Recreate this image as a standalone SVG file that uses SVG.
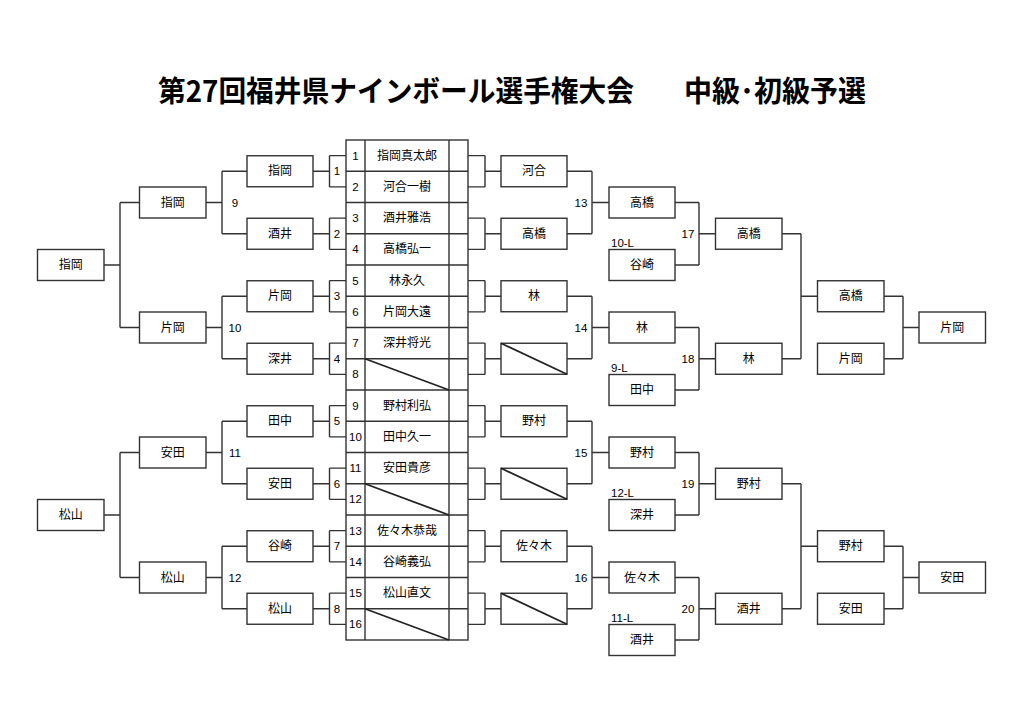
<svg xmlns="http://www.w3.org/2000/svg" width="1024" height="724" viewBox="0 0 1024 724">
<style>
.bg{fill:#ffffff}
.box{fill:#ffffff;stroke:#333333;stroke-width:1.4}
.ln{fill:none;stroke:#333333;stroke-width:1.4}
.dg{fill:none;stroke:#222222;stroke-width:1.8}
.t{font-family:"Liberation Sans","Noto Sans CJK JP",sans-serif;font-size:12px;fill:#000000;text-anchor:middle;dominant-baseline:central}
.n{font-family:"Liberation Sans","Noto Sans CJK JP",sans-serif;font-size:11.5px;fill:#000000;text-anchor:middle;dominant-baseline:central}
.l{font-family:"Liberation Sans","Noto Sans CJK JP",sans-serif;font-size:11.5px;fill:#000000;text-anchor:start}
.title{font-family:"Noto Sans CJK JP",sans-serif;font-size:29px;font-weight:bold;fill:#000000}
</style>
<rect class="bg" x="0" y="0" width="1024" height="724"/>
<g id="title">
<text class="title" x="158" y="102" textLength="476" lengthAdjust="spacingAndGlyphs">第27回福井県ナインボール選手権大会</text>
<text class="title" x="684" y="102" textLength="182" lengthAdjust="spacingAndGlyphs">中級･初級予選</text>
</g>
<g id="connectors">
<path class="ln" d="M104,265H120M120,202.5V327.5M120,202.5H139M120,327.5H139"/>
<path class="ln" d="M104,515H120M120,452.5V577.5M120,452.5H139M120,577.5H139"/>
<path class="ln" d="M206,202.5H222M222,171.25V233.75M222,171.25H247M222,233.75H247"/>
<path class="ln" d="M206,327.5H222M222,296.25V358.75M222,296.25H247M222,358.75H247"/>
<path class="ln" d="M206,452.5H222M222,421.25V483.75M222,421.25H247M222,483.75H247"/>
<path class="ln" d="M206,577.5H222M222,546.25V608.75M222,546.25H247M222,608.75H247"/>
<path class="ln" d="M313,171.25H329.5M329.5,155.6V186.9M329.5,155.6H346M329.5,186.9H346"/>
<path class="ln" d="M313,233.75H329.5M329.5,218.1V249.4M329.5,218.1H346M329.5,249.4H346"/>
<path class="ln" d="M313,296.25H329.5M329.5,280.6V311.9M329.5,280.6H346M329.5,311.9H346"/>
<path class="ln" d="M313,358.75H329.5M329.5,343.1V374.4M329.5,343.1H346M329.5,374.4H346"/>
<path class="ln" d="M313,421.25H329.5M329.5,405.6V436.9M329.5,405.6H346M329.5,436.9H346"/>
<path class="ln" d="M313,483.75H329.5M329.5,468.1V499.4M329.5,468.1H346M329.5,499.4H346"/>
<path class="ln" d="M313,546.25H329.5M329.5,530.6V561.9M329.5,530.6H346M329.5,561.9H346"/>
<path class="ln" d="M313,608.75H329.5M329.5,593.1V624.4M329.5,593.1H346M329.5,624.4H346"/>
<path class="ln" d="M468,155.6H485M468,186.9H485M485,155.6V186.9M485,171.25H501"/>
<path class="ln" d="M468,218.1H485M468,249.4H485M485,218.1V249.4M485,233.75H501"/>
<path class="ln" d="M468,280.6H485M468,311.9H485M485,280.6V311.9M485,296.25H501"/>
<path class="ln" d="M468,343.1H485M468,374.4H485M485,343.1V374.4M485,358.75H501"/>
<path class="ln" d="M468,405.6H485M468,436.9H485M485,405.6V436.9M485,421.25H501"/>
<path class="ln" d="M468,468.1H485M468,499.4H485M485,468.1V499.4M485,483.75H501"/>
<path class="ln" d="M468,530.6H485M468,561.9H485M485,530.6V561.9M485,546.25H501"/>
<path class="ln" d="M468,593.1H485M468,624.4H485M485,593.1V624.4M485,608.75H501"/>
<path class="ln" d="M567,171.25H592M567,233.75H592M592,171.25V233.75M592,202.5H609"/>
<path class="ln" d="M567,296.25H592M567,358.75H592M592,296.25V358.75M592,327.5H609"/>
<path class="ln" d="M567,421.25H592M567,483.75H592M592,421.25V483.75M592,452.5H609"/>
<path class="ln" d="M567,546.25H592M567,608.75H592M592,546.25V608.75M592,577.5H609"/>
<path class="ln" d="M675,202.5H699M675,265H699M699,202.5V265M699,233.75H715"/>
<path class="ln" d="M675,327.5H699M675,390H699M699,327.5V390M699,358.75H715"/>
<path class="ln" d="M675,452.5H699M675,515H699M699,452.5V515M699,483.75H715"/>
<path class="ln" d="M675,577.5H699M675,640H699M699,577.5V640M699,608.75H715"/>
<path class="ln" d="M782,233.75H801M782,358.75H801M801,233.75V358.75M801,296.25H817"/>
<path class="ln" d="M782,483.75H801M782,608.75H801M801,483.75V608.75M801,546.25H817"/>
<path class="ln" d="M884,296.25H903M884,358.75H903M903,296.25V358.75M903,327.5H919"/>
<path class="ln" d="M884,546.25H903M884,608.75H903M903,546.25V608.75M903,577.5H919"/>
</g>
<g id="match-labels">
<text class="n" x="337" y="171.25">1</text>
<text class="n" x="337" y="233.75">2</text>
<text class="n" x="337" y="296.25">3</text>
<text class="n" x="337" y="358.75">4</text>
<text class="n" x="337" y="421.25">5</text>
<text class="n" x="337" y="483.75">6</text>
<text class="n" x="337" y="546.25">7</text>
<text class="n" x="337" y="608.75">8</text>
<text class="n" x="235" y="202.5">9</text>
<text class="n" x="235" y="327.5">10</text>
<text class="n" x="235" y="452.5">11</text>
<text class="n" x="235" y="577.5">12</text>
<text class="n" x="581" y="202.5">13</text>
<text class="n" x="581" y="327.5">14</text>
<text class="n" x="581" y="452.5">15</text>
<text class="n" x="581" y="577.5">16</text>
<text class="n" x="688" y="233.75">17</text>
<text class="n" x="688" y="358.75">18</text>
<text class="n" x="688" y="483.75">19</text>
<text class="n" x="688" y="608.75">20</text>
<text class="l" x="611" y="247">10-L</text>
<text class="l" x="611" y="372">9-L</text>
<text class="l" x="611" y="497">12-L</text>
<text class="l" x="611" y="622">11-L</text>
</g>
<g id="entry-table">
<rect class="box" x="346" y="140" width="122" height="500"/>
<path class="ln" d="M365,140V640M449,140V640"/>
<path class="ln" d="M346,171.25H468M346,202.5H468M346,233.75H468M346,265H468M346,296.25H468M346,327.5H468M346,358.75H468M346,390H468M346,421.25H468M346,452.5H468M346,483.75H468M346,515H468M346,546.25H468M346,577.5H468M346,608.75H468"/>
<path class="dg" d="M365,358.75L449,390M365,483.75L449,515M365,608.75L449,640"/>
<text class="n" x="355.5" y="155.6">1</text>
<text class="n" x="355.5" y="186.9">2</text>
<text class="n" x="355.5" y="218.1">3</text>
<text class="n" x="355.5" y="249.4">4</text>
<text class="n" x="355.5" y="280.6">5</text>
<text class="n" x="355.5" y="311.9">6</text>
<text class="n" x="355.5" y="343.1">7</text>
<text class="n" x="355.5" y="374.4">8</text>
<text class="n" x="355.5" y="405.6">9</text>
<text class="n" x="355.5" y="436.9">10</text>
<text class="n" x="355.5" y="468.1">11</text>
<text class="n" x="355.5" y="499.4">12</text>
<text class="n" x="355.5" y="530.6">13</text>
<text class="n" x="355.5" y="561.9">14</text>
<text class="n" x="355.5" y="593.1">15</text>
<text class="n" x="355.5" y="624.4">16</text>
<text class="t" x="407" y="155.6">指岡真太郎</text>
<text class="t" x="407" y="186.9">河合一樹</text>
<text class="t" x="407" y="218.1">酒井雅浩</text>
<text class="t" x="407" y="249.4">高橋弘一</text>
<text class="t" x="407" y="280.6">林永久</text>
<text class="t" x="407" y="311.9">片岡大遠</text>
<text class="t" x="407" y="343.1">深井将光</text>
<text class="t" x="407" y="405.6">野村利弘</text>
<text class="t" x="407" y="436.9">田中久一</text>
<text class="t" x="407" y="468.1">安田貴彦</text>
<text class="t" x="407" y="530.6">佐々木恭哉</text>
<text class="t" x="407" y="561.9">谷崎義弘</text>
<text class="t" x="407" y="593.1">松山直文</text>
</g>
<g id="c1-1"><rect class="box" x="37.5" y="249.5" width="66.5" height="31"/><text class="t" x="70.75" y="265">指岡</text></g>
<g id="c1-2"><rect class="box" x="37.5" y="499.5" width="66.5" height="31"/><text class="t" x="70.75" y="515">松山</text></g>
<g id="c2-1"><rect class="box" x="139.5" y="187" width="66.5" height="31"/><text class="t" x="172.75" y="202.5">指岡</text></g>
<g id="c2-2"><rect class="box" x="139.5" y="312" width="66.5" height="31"/><text class="t" x="172.75" y="327.5">片岡</text></g>
<g id="c2-3"><rect class="box" x="139.5" y="437" width="66.5" height="31"/><text class="t" x="172.75" y="452.5">安田</text></g>
<g id="c2-4"><rect class="box" x="139.5" y="562" width="66.5" height="31"/><text class="t" x="172.75" y="577.5">松山</text></g>
<g id="c3-1"><rect class="box" x="247" y="155.75" width="66" height="31"/><text class="t" x="280" y="171.25">指岡</text></g>
<g id="c3-2"><rect class="box" x="247" y="218.25" width="66" height="31"/><text class="t" x="280" y="233.75">酒井</text></g>
<g id="c3-3"><rect class="box" x="247" y="280.75" width="66" height="31"/><text class="t" x="280" y="296.25">片岡</text></g>
<g id="c3-4"><rect class="box" x="247" y="343.25" width="66" height="31"/><text class="t" x="280" y="358.75">深井</text></g>
<g id="c3-5"><rect class="box" x="247" y="405.75" width="66" height="31"/><text class="t" x="280" y="421.25">田中</text></g>
<g id="c3-6"><rect class="box" x="247" y="468.25" width="66" height="31"/><text class="t" x="280" y="483.75">安田</text></g>
<g id="c3-7"><rect class="box" x="247" y="530.75" width="66" height="31"/><text class="t" x="280" y="546.25">谷崎</text></g>
<g id="c3-8"><rect class="box" x="247" y="593.25" width="66" height="31"/><text class="t" x="280" y="608.75">松山</text></g>
<g id="c4-1"><rect class="box" x="501" y="155.75" width="66" height="31"/><text class="t" x="534" y="171.25">河合</text></g>
<g id="c4-2"><rect class="box" x="501" y="218.25" width="66" height="31"/><text class="t" x="534" y="233.75">高橋</text></g>
<g id="c4-3"><rect class="box" x="501" y="280.75" width="66" height="31"/><text class="t" x="534" y="296.25">林</text></g>
<g id="c4-4"><rect class="box" x="501" y="343.25" width="66" height="31"/><path class="dg" d="M501,343.25L567,374.25"/></g>
<g id="c4-5"><rect class="box" x="501" y="405.75" width="66" height="31"/><text class="t" x="534" y="421.25">野村</text></g>
<g id="c4-6"><rect class="box" x="501" y="468.25" width="66" height="31"/><path class="dg" d="M501,468.25L567,499.25"/></g>
<g id="c4-7"><rect class="box" x="501" y="530.75" width="66" height="31"/><text class="t" x="534" y="546.25">佐々木</text></g>
<g id="c4-8"><rect class="box" x="501" y="593.25" width="66" height="31"/><path class="dg" d="M501,593.25L567,624.25"/></g>
<g id="c5-1"><rect class="box" x="609" y="187" width="66" height="31"/><text class="t" x="642" y="202.5">高橋</text></g>
<g id="c5-2"><rect class="box" x="609" y="249.5" width="66" height="31"/><text class="t" x="642" y="265">谷崎</text></g>
<g id="c5-3"><rect class="box" x="609" y="312" width="66" height="31"/><text class="t" x="642" y="327.5">林</text></g>
<g id="c5-4"><rect class="box" x="609" y="374.5" width="66" height="31"/><text class="t" x="642" y="390">田中</text></g>
<g id="c5-5"><rect class="box" x="609" y="437" width="66" height="31"/><text class="t" x="642" y="452.5">野村</text></g>
<g id="c5-6"><rect class="box" x="609" y="499.5" width="66" height="31"/><text class="t" x="642" y="515">深井</text></g>
<g id="c5-7"><rect class="box" x="609" y="562" width="66" height="31"/><text class="t" x="642" y="577.5">佐々木</text></g>
<g id="c5-8"><rect class="box" x="609" y="624.5" width="66" height="31"/><text class="t" x="642" y="640">酒井</text></g>
<g id="c6-1"><rect class="box" x="715.5" y="218.25" width="66.5" height="31"/><text class="t" x="748.75" y="233.75">高橋</text></g>
<g id="c6-2"><rect class="box" x="715.5" y="343.25" width="66.5" height="31"/><text class="t" x="748.75" y="358.75">林</text></g>
<g id="c6-3"><rect class="box" x="715.5" y="468.25" width="66.5" height="31"/><text class="t" x="748.75" y="483.75">野村</text></g>
<g id="c6-4"><rect class="box" x="715.5" y="593.25" width="66.5" height="31"/><text class="t" x="748.75" y="608.75">酒井</text></g>
<g id="c7-1"><rect class="box" x="817.5" y="280.75" width="66.5" height="31"/><text class="t" x="850.75" y="296.25">高橋</text></g>
<g id="c7-2"><rect class="box" x="817.5" y="343.25" width="66.5" height="31"/><text class="t" x="850.75" y="358.75">片岡</text></g>
<g id="c7-3"><rect class="box" x="817.5" y="530.75" width="66.5" height="31"/><text class="t" x="850.75" y="546.25">野村</text></g>
<g id="c7-4"><rect class="box" x="817.5" y="593.25" width="66.5" height="31"/><text class="t" x="850.75" y="608.75">安田</text></g>
<g id="c8-1"><rect class="box" x="919" y="312" width="66.5" height="31"/><text class="t" x="952.25" y="327.5">片岡</text></g>
<g id="c8-2"><rect class="box" x="919" y="562" width="66.5" height="31"/><text class="t" x="952.25" y="577.5">安田</text></g>
</svg>
